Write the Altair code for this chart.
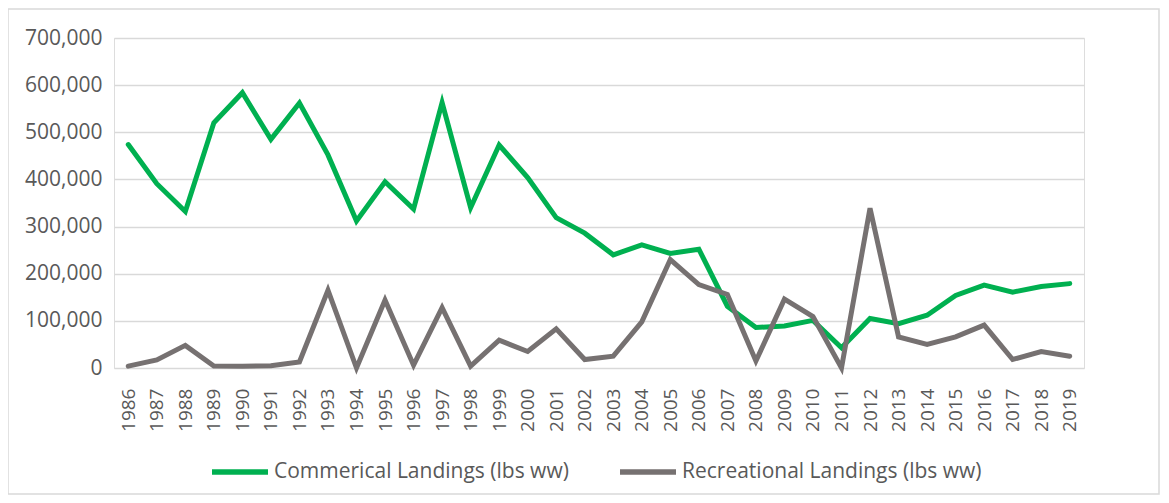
import altair as alt
import pandas as pd

years = list(range(1986, 2020))
commercial = [474000, 391000, 332000, 520000, 584000, 485000, 562000, 452000, 312000, 395000,
              337000, 563000, 340000, 473000, 404000, 319000, 286000, 240000, 261000, 243000,
              252000, 131000, 86000, 89000, 101000, 43000, 105000, 94000, 112000, 154000,
              176000, 161000, 173000, 179000]
recreational = [4000, 17000, 48000, 4000, 3500, 5000, 13000, 165000, 0, 144000,
                6000, 128000, 4000, 59000, 35000, 83000, 18000, 25000, 98000, 230000,
                177000, 156000, 15000, 146000, 109000, 0, 339000, 66000, 50000, 66000,
                91000, 18000, 35000, 25000]
series_names = ["Commerical Landings (lbs ww)", "Recreational Landings (lbs ww)"]
colors = ["#00B050", "#767171"]

rows = []
for i, y in enumerate(years):
    rows.append({"Year": str(y), "Series": series_names[0], "Value": commercial[i], "order": 0})
    rows.append({"Year": str(y), "Series": series_names[1], "Value": recreational[i], "order": 1})
df = pd.DataFrame(rows)

W, H = 970, 330

lines = alt.Chart(df).mark_line(strokeWidth=5, strokeJoin="miter", strokeCap="round").encode(
    x=alt.X("Year:O", sort=[str(y) for y in years],
            scale=alt.Scale(type="point", padding=0.5),
            axis=alt.Axis(title=None, labelAngle=270, ticks=False, domain=False, grid=False,
                          labelFont="Open Sans", labelFontSize=19, labelColor="#595959",
                          labelPadding=20, labelBaseline="middle", labelAlign="right")),
    y=alt.Y("Value:Q", scale=alt.Scale(domain=[0, 700000], nice=False),
            axis=alt.Axis(title=None, values=[0, 100000, 200000, 300000, 400000, 500000, 600000, 700000],
                          format=",d", ticks=False, domain=False, grid=True,
                          gridColor="#D9D9D9", gridWidth=1.3,
                          labelFont="Open Sans", labelFontSize=21, labelColor="#595959",
                          labelPadding=12)),
    color=alt.Color("Series:N", scale=alt.Scale(domain=series_names, range=colors),
                    legend=alt.Legend(title=None, orient="none", direction="horizontal",
                                      legendX=95, legendY=403,
                                      symbolType="stroke", symbolStrokeWidth=5.5, symbolSize=3136,
                                      labelFont="Open Sans", labelFontSize=21,
                                      labelColor="#595959", labelOffset=3, columnPadding=40,
                                      labelLimit=500)),
    order="order:Q",
    detail="Series:N",
)

border = alt.Chart(pd.DataFrame({"a": [0]})).mark_rect(
    fill=None, stroke="#D9D9D9", strokeWidth=1.5).encode(
    x=alt.value(-106), x2=alt.value(1045), y=alt.value(-29), y2=alt.value(456))

chart = alt.layer(border, lines).properties(
    width=W, height=H,
    autosize=alt.AutoSizeParams(type="none"),
    padding={"left": 106, "top": 30, "right": 77, "bottom": 127},
).configure_view(stroke=None).configure(background="white")

chart.save("out.html", embed_options={"renderer": "svg", "actions": False})
